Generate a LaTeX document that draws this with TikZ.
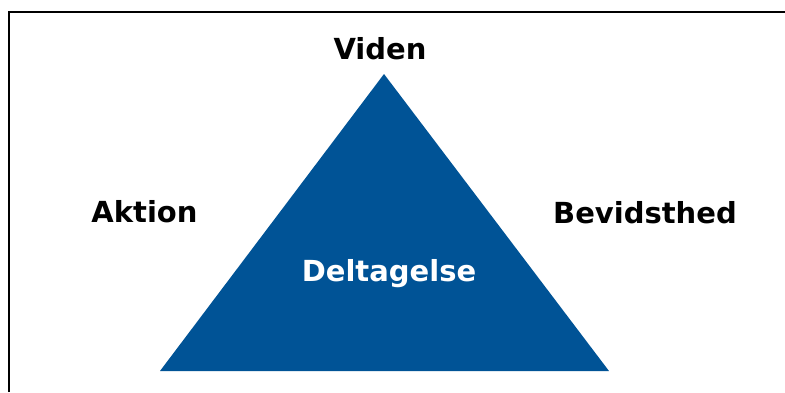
\documentclass[tikz,border=0pt]{standalone}
\usepackage{fontspec}
\setmainfont{DejaVu Sans}
\definecolor{triblue}{RGB}{0,83,150}
\begin{document}
\begin{tikzpicture}[x=1pt,y=-1pt,
  lbl/.style={font=\bfseries\fontsize{29}{32}\selectfont, anchor=base, inner sep=0pt},
  frame/.style={line width=2.6pt, black}]
\useasboundingbox (0,0) rectangle (785,392);
\fill[white] (0,0) rectangle (785,392);
\draw[frame] (9,392) -- (9,12) -- (785,12);
\coordinate (apex) at (384,74);
\coordinate (bl) at (160,371);
\coordinate (br) at (609,371);
\fill[triblue] (apex) -- (br) -- (bl) -- cycle;
\node[lbl] (viden) at (380,59) {Viden};
\node[lbl] (aktion) at (144.5,222) {Aktion};
\node[lbl] (bevid) at (645,223) {Bevidsthed};
\node[lbl, text=white] (delt) at (389,281) {Deltagelse};
\end{tikzpicture}
\end{document}
